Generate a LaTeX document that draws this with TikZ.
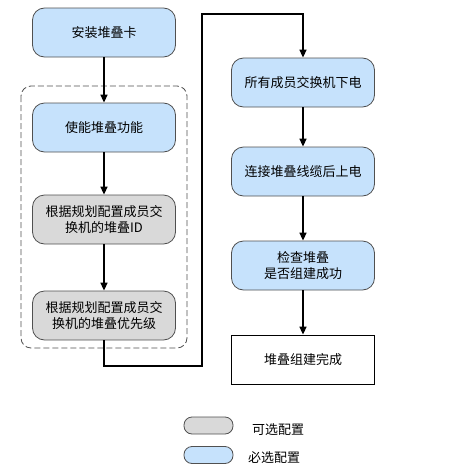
\documentclass[tikz,border=0pt]{standalone}
\usepackage{fontspec}
\setmainfont{Noto Sans CJK SC}
\usetikzlibrary{arrows.meta,positioning,calc}
\definecolor{bluefill}{HTML}{C6E2FC}
\definecolor{grayfill}{HTML}{D9D9D9}
\definecolor{edgegray}{HTML}{505050}
\tikzset{
  stepbox/.style={draw=edgegray,line width=0.8pt,rounded corners=12pt,minimum width=143pt,minimum height=49pt,align=center,inner sep=0pt,font=\fontsize{13}{16}\selectfont},
  reqbox/.style={stepbox,fill=bluefill},
  optbox/.style={stepbox,fill=grayfill},
  endbox/.style={draw=black,line width=0.8pt,minimum width=143pt,minimum height=49pt,align=center,inner sep=0pt,font=\fontsize{13}{16}\selectfont},
  flow/.style={line width=1.6pt,-{Triangle[length=8pt,width=7pt]}},
  legbox/.style={draw=edgegray,line width=0.8pt,rounded corners=8pt,minimum width=49pt,minimum height=17pt,inner sep=0pt},
  legtext/.style={font=\fontsize{13}{14}\selectfont,anchor=west,inner sep=0pt}
}
\begin{document}
\begin{tikzpicture}[x=1pt,y=-1pt]
\useasboundingbox (0,0) rectangle (448,474);
\node[reqbox] (a) at (104,32.5) {安装堆叠卡};
\node[reqbox] (b) at (104,127.5) {使能堆叠功能};
\node[optbox] (c) at (104,219.5) {根据规划配置成员交\\换机的堆叠ID};
\node[optbox] (d) at (104,315.5) {根据规划配置成员交\\换机的堆叠优先级};
\node[reqbox] (e) at (303,82.5) {所有成员交换机下电};
\node[reqbox] (f) at (303,171.5) {连接堆叠线缆后上电};
\node[reqbox] (g) at (303,265.5) {检查堆叠\\是否组建成功};
\node[endbox] (h) at (303,359.5) {堆叠组建完成};
\draw[edgegray,line width=0.8pt,dashed,dash pattern=on 6pt off 3pt,rounded corners=10pt] (21,86) rectangle (187,348);
\draw[flow] (a) -- (b);
\draw[flow] (b) -- (c);
\draw[flow] (c) -- (d);
\coordinate (t1) at (202,366);
\coordinate (t2) at (202,14);
\draw[flow] (d.south) |- (t1) -- (t2) -| (e.north);
\draw[flow] (e) -- (f);
\draw[flow] (f) -- (g);
\draw[flow] (g) -- (h);
\node[legbox,fill=grayfill] (lg) at (208.5,425.5) {};
\node[legbox,fill=bluefill] (lb) at (208.5,455) {};
\node[legtext] (lgt) at (252,430) {可选配置};
\node[legtext] (lbt) at (248,458) {必选配置};
\end{tikzpicture}
\end{document}
